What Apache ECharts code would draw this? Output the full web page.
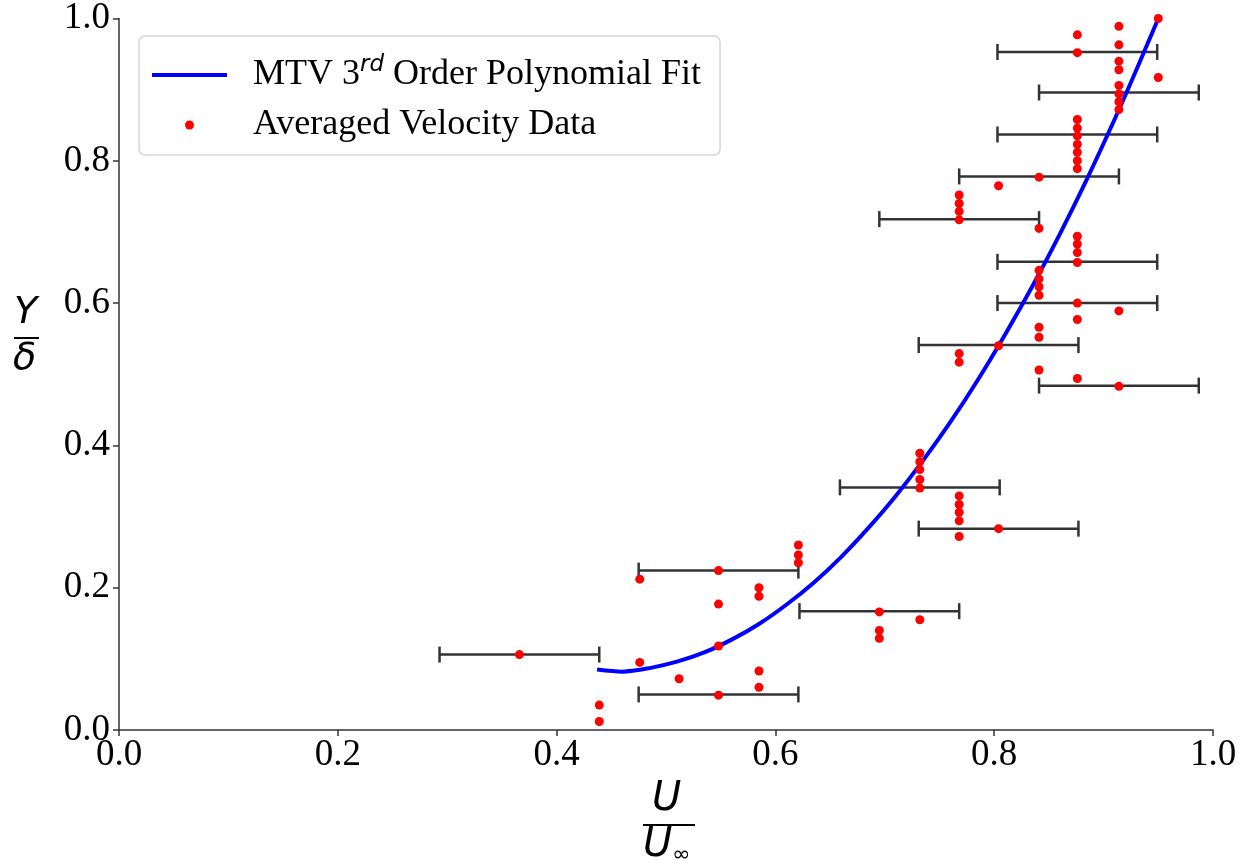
<!DOCTYPE html>
<html>
<head>
<meta charset="utf-8">
<script src="https://cdn.jsdelivr.net/npm/echarts@6/dist/echarts.min.js"></script>
<style>
  html, body { margin: 0; padding: 0; background: #fff; }
  #main { width: 1247px; height: 861px; }
</style>
</head>
<body>
<div id="main"></div>
<script>
// averaged velocity data (U/Uinf, Y/delta)
const pointU = [
  0.366,
  0.439, 0.439,
  0.476, 0.476,
  0.512,
  0.548, 0.548, 0.548, 0.548,
  0.585, 0.585, 0.585, 0.585,
  0.621, 0.621, 0.621,
  0.695, 0.695, 0.695,
  0.732, 0.732, 0.732, 0.732, 0.732, 0.732,
  0.768, 0.768, 0.768, 0.768, 0.768, 0.768, 0.768, 0.768, 0.768, 0.768, 0.768,
  0.804, 0.804, 0.804,
  0.841, 0.841, 0.841, 0.841, 0.841, 0.841, 0.841, 0.841, 0.841,
  0.876, 0.876, 0.876, 0.876, 0.876, 0.876, 0.876, 0.876, 0.876, 0.876, 0.876, 0.876, 0.876, 0.876, 0.876, 0.876,
  0.914, 0.914, 0.914, 0.914, 0.914, 0.914, 0.914, 0.914, 0.914, 0.914,
  0.950, 0.950
];
const pointV = [
  0.106,
  0.035, 0.012,
  0.095, 0.212,
  0.072,
  0.224, 0.177, 0.118, 0.049,
  0.200, 0.188, 0.083, 0.060,
  0.260, 0.246, 0.235,
  0.166, 0.140, 0.129,
  0.155, 0.389, 0.377, 0.366, 0.352, 0.340,
  0.329, 0.317, 0.306, 0.294, 0.272, 0.529, 0.517, 0.752, 0.740, 0.729, 0.717,
  0.283, 0.540, 0.765,
  0.777, 0.705, 0.646, 0.634, 0.623, 0.611, 0.566, 0.552, 0.506,
  0.977, 0.952, 0.858, 0.846, 0.835, 0.823, 0.812, 0.800, 0.789, 0.694, 0.683, 0.671, 0.657, 0.600, 0.577, 0.494,
  0.989, 0.963, 0.940, 0.928, 0.906, 0.894, 0.883, 0.872, 0.589, 0.483,
  1.000, 0.917
];

// horizontal error bars: centre and half width
const errU = [0.876, 0.914, 0.876, 0.841, 0.768, 0.876, 0.876, 0.804, 0.914, 0.732, 0.804, 0.548, 0.695, 0.366, 0.548];
const errV = [0.953, 0.896, 0.837, 0.778, 0.718, 0.658, 0.600, 0.541, 0.484, 0.341, 0.283, 0.224, 0.167, 0.106, 0.050];
const errHalf = [0.073, 0.073, 0.073, 0.073, 0.073, 0.073, 0.073, 0.073, 0.073, 0.073, 0.073, 0.073, 0.073, 0.073, 0.073];

// 3rd order polynomial fit at even steps
const fitU = [0.437, 0.460, 0.485, 0.510, 0.535, 0.560, 0.585, 0.610, 0.635, 0.660, 0.685, 0.710, 0.735, 0.760, 0.785, 0.810, 0.835, 0.860, 0.885, 0.910, 0.930, 0.950];
const fitV = [0.085, 0.082, 0.087, 0.096, 0.109, 0.127, 0.149, 0.176, 0.207, 0.243, 0.284, 0.329, 0.379, 0.433, 0.492, 0.556, 0.624, 0.697, 0.775, 0.858, 0.928, 1.000];

const tickLabels = ['0.0', '0.2', '0.4', '0.6', '0.8', '1.0'];

const fitName = 'MTV 3rd Order Polynomial Fit';
const dataName = 'Averaged Velocity Data';

let chart = echarts.init(document.getElementById('main'));

let axisCommon = {
    type: 'value',
    min: 0,
    max: 1,
    interval: 0.2,
    splitLine: { show: false },
    axisLine: { show: true, lineStyle: { color: '#333', width: 1.5 } },
    axisTick: { show: true, inside: false, length: 6, lineStyle: { color: '#333', width: 1.5 } },
    axisLabel: {
        color: '#000',
        fontFamily: 'Liberation Serif',
        fontSize: 37,
        formatter: function (v) { return tickLabels[Math.round(v / 0.2)]; }
    }
};

let option = {
    backgroundColor: '#fff',
    animation: false,
    grid: { left: 119, right: 34, top: 18, bottom: 131 },
    xAxis: Object.assign({}, axisCommon, {
        axisLabel: Object.assign({}, axisCommon.axisLabel, { margin: 7 })
    }),
    yAxis: Object.assign({}, axisCommon, {
        axisLabel: Object.assign({}, axisCommon.axisLabel, { margin: 9 })
    }),
    legend: {
        orient: 'vertical',
        left: 139,
        top: 36,
        padding: [18, 19, 12, 13],
        itemGap: 14,
        itemWidth: 75,
        itemHeight: 9,
        backgroundColor: '#fff',
        borderColor: '#d6d6d6',
        borderWidth: 1.5,
        borderRadius: 6,
        data: [
            { name: fitName, icon: 'path://M0,0h75v4h-75z' },
            { name: dataName, icon: 'circle' }
        ],
        formatter: function (name) {
            if (name === fitName) return '{t|MTV 3}{sup|rd}{t| Order Polynomial Fit}';
            return '{t|' + name + '}';
        },
        textStyle: {
            padding: [0, 0, 0, 21],
            rich: {
                t: { fontFamily: 'Liberation Serif', fontSize: 36, color: '#000', lineHeight: 42 },
                sup: { fontFamily: 'DejaVu Sans', fontStyle: 'italic', fontSize: 23, color: '#000', verticalAlign: 'top', lineHeight: 42, padding: [0, 0, 14, 0] }
            }
        }
    },
    series: [
        {
            name: 'errorbars',
            type: 'custom',
            z: 1,
            silent: true,
            data: errU.map(function (u, i) { return [u, errV[i], errHalf[i]]; }),
            encode: { x: 0, y: 1 },
            renderItem: function (params, api) {
                let u = api.value(0), v = api.value(1), e = api.value(2);
                let l = api.coord([u - e, v]);
                let r = api.coord([u + e, v]);
                let cap = 8;
                let style = { stroke: '#333', lineWidth: 2.5 };
                return {
                    type: 'group',
                    children: [
                        { type: 'line', shape: { x1: l[0], y1: l[1], x2: r[0], y2: r[1] }, style: style },
                        { type: 'line', shape: { x1: l[0], y1: l[1] - cap, x2: l[0], y2: l[1] + cap }, style: style },
                        { type: 'line', shape: { x1: r[0], y1: r[1] - cap, x2: r[0], y2: r[1] + cap }, style: style }
                    ]
                };
            }
        },
        {
            name: fitName,
            type: 'line',
            z: 2,
            smooth: 0.3,
            showSymbol: false,
            color: '#0000ff',
            lineStyle: { color: '#0000ff', width: 4 },
            data: fitU.map(function (u, i) { return [u, fitV[i]]; })
        },
        {
            name: dataName,
            type: 'scatter',
            z: 3,
            symbol: 'circle',
            symbolSize: 9,
            color: '#ff0000',
            itemStyle: { color: '#ff0000', opacity: 1 },
            data: pointU.map(function (u, i) { return [u, pointV[i]]; })
        }
    ],
    graphic: [
        { type: 'text', left: 14, top: 294, style: { text: 'Y', fontFamily: 'DejaVu Sans', fontStyle: 'italic', fontSize: 38, fill: '#000' } },
        { type: 'rect', left: 14, top: 337, shape: { width: 25, height: 2 }, style: { fill: '#000' } },
        { type: 'text', left: 13, top: 340, style: { text: 'δ', fontFamily: 'DejaVu Sans', fontStyle: 'italic', fontSize: 38, fill: '#000' } },
        { type: 'text', left: 652, top: 780, style: { text: 'U', fontFamily: 'DejaVu Sans', fontStyle: 'italic', fontSize: 40, fill: '#000' } },
        { type: 'rect', left: 643, top: 824, shape: { width: 52, height: 2 }, style: { fill: '#000' } },
        {
            type: 'text', left: 643, top: 826,
            style: {
                text: '{u|U}{s|∞}',
                rich: {
                    u: { fontFamily: 'DejaVu Sans', fontStyle: 'italic', fontSize: 40, fill: '#000', lineHeight: 40 },
                    s: { fontFamily: 'DejaVu Sans', fontSize: 22, fill: '#000', lineHeight: 40, verticalAlign: 'bottom' }
                }
            }
        }
    ]
};
chart.setOption(option);
</script>
</body>
</html>
